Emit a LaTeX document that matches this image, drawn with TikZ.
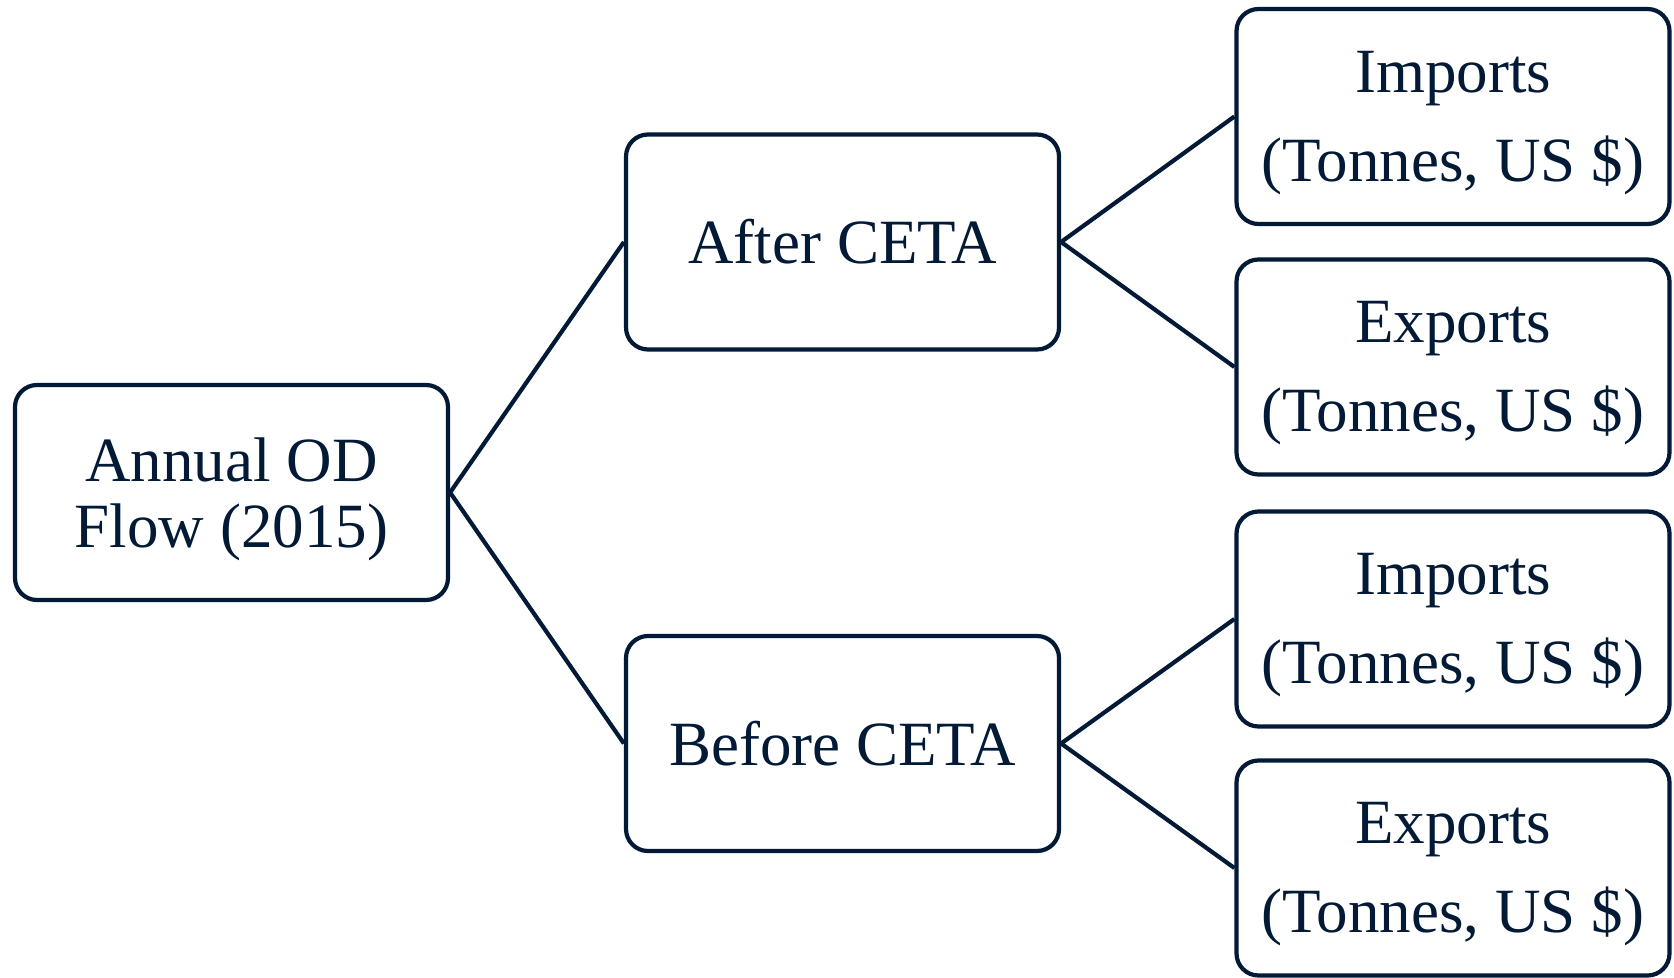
\documentclass[tikz,border=0pt]{standalone}
\usepackage{fontspec}
\setmainfont{Liberation Serif}
\usetikzlibrary{positioning}
\definecolor{cnavy}{HTML}{021A36}
\newcommand{\topgap}[1]{\rule{0pt}{#1}}
\tikzset{
  every picture/.style={line width=2.1pt},
  box/.style={draw=cnavy, text=cnavy, fill=white, rounded corners=11pt, align=center, inner sep=0pt,
              minimum width=216.5pt, minimum height=107.5pt, font=\fontsize{31.5}{44.5}\selectfont},
  tight/.style={font=\fontsize{31.5}{33}\selectfont},
  link/.style={draw=cnavy, line width=2.1pt},
}

\begin{document}
\begin{tikzpicture}[x=0.5pt, y=-0.5pt]
  \useasboundingbox (0,0) rectangle (1674,978);
  \node[box, tight] (od) at (231.5,492.5) {\topgap{28.5pt}Annual OD\\Flow (2015)};
  \node[box] (after) at (842.5,242) {After CETA};
  \node[box] (before) at (842.5,743.5) {Before CETA};
  \node[box] (aimp) at (1453,116.5) {\topgap{27pt}Imports\\(Tonnes, US \$)};
  \node[box] (aexp) at (1453,367) {\topgap{27pt}Exports\\(Tonnes, US \$)};
  \node[box] (bimp) at (1453,619) {\topgap{27pt}Imports\\(Tonnes, US \$)};
  \node[box] (bexp) at (1453,868) {\topgap{27pt}Exports\\(Tonnes, US \$)};
  \foreach \n in {after,before} \draw[link] (od.east) -- (\n.west);
  \foreach \n in {aimp,aexp} \draw[link] (after.east) -- (\n.west);
  \foreach \n in {bimp,bexp} \draw[link] (before.east) -- (\n.west);
\end{tikzpicture}
\end{document}
